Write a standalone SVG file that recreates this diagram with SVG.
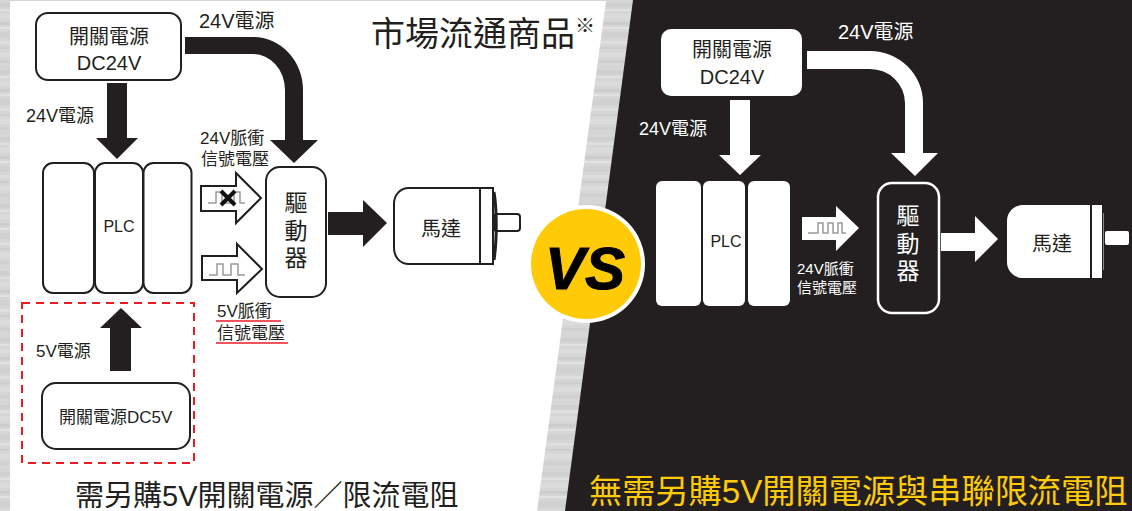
<svg xmlns="http://www.w3.org/2000/svg" width="1132" height="511" viewBox="0 0 1132 511">
<defs>
<pattern id="metal" width="8" height="67" patternUnits="userSpaceOnUse">
<rect width="8" height="67" fill="#d6d6d6"/>
<rect y="3" width="8" height="4" fill="#cfcfcf"/><rect y="9" width="8" height="2" fill="#e0e0e0"/><rect y="14" width="8" height="5" fill="#dbdbdb"/><rect y="22" width="8" height="3" fill="#cdcdcd"/><rect y="27" width="8" height="2" fill="#e2e2e2"/><rect y="32" width="8" height="6" fill="#d1d1d1"/><rect y="41" width="8" height="3" fill="#dedede"/><rect y="47" width="8" height="2" fill="#cecece"/><rect y="52" width="8" height="5" fill="#dcdcdc"/><rect y="60" width="8" height="3" fill="#d0d0d0"/>
</pattern>
</defs>
<style>
text{font-family:"Liberation Sans","Noto Sans CJK TC",sans-serif;fill:#231f20}
.m{text-anchor:middle}
.w{fill:#fff}
.bx{fill:#fff;stroke:#231f20;stroke-width:2}
.blk{fill:#231f20}
.wh{fill:#fff}
.hollow{fill:#fff;stroke:#231f20;stroke-width:2}
.wave{fill:none;stroke:#9a9a9a;stroke-width:1.500}
.red{stroke:#ed1c24;stroke-width:1.500;fill:none}
</style>
<rect width="1132" height="511" fill="url(#metal)"/>
<polygon points="10,1 606,1 537,511 10,511" fill="#fff"/>
<polygon points="633,0 1132,0 1132,511 565,511" fill="#231f20"/>

<g id="connectors">
<polygon class="blk" points="107,83 127,83 127,138 138,138 117,159 96,138 107,138"/>
<path class="blk" d="M185,37H253A50,53 0 0 1 303,90V140H318L294,163L270,140H285V90A32,36 0 0 0 253,54H185Z"/>
<polygon class="hollow" points="201,186 236,186 236,173 261,198 236,223 236,211 201,211"/>
<polygon class="hollow" points="202,256 237,256 237,244 262,269 237,293 237,280 202,280"/>
<polygon class="blk" points="328,212 363,212 363,200 387,223 363,247 363,235 328,235"/>
<polygon class="blk" points="110,371 110,328 100,328 121,308 142,328 131,328 131,371"/>
<polygon class="wh" points="730,100 750,100 750,155 761,155 740,175 719,155 730,155"/>
<path class="wh" d="M807,51H870A53,52 0 0 1 923,103V153H938L915,176L891,153H905V103A35,34 0 0 0 870,69H807Z"/>
<polygon class="wh" points="802,217 836,217 836,206 859,228 836,251 836,240 802,240"/>
<polygon class="wh" points="941,233 975,233 975,216 998,239 975,262 975,251 941,251"/>
<polyline class="wave" points="208,203 216,203 216,192 222,192 222,203 234,203 234,192 240,192 240,203 245,203"/>
<polyline class="wave" points="209,275 217,275 217,264 223,264 223,275 231,275 231,264 238,264 238,275 245,275"/>
<polyline class="wave" points="808,233 818,233 818,223 823,223 823,233 828,233 828,223 833,223 833,233 838,233 838,223 842,223 842,233 846,233"/>
<path d="M221,191L235,205M235,191L221,205" stroke="#111" stroke-width="4" fill="none"/>
</g>

<g id="left-title">
<text x="371" y="46" font-size="34">市場流通商品</text>
<text x="575" y="33" font-size="20">※</text>
</g>
<g id="left-power24"><rect class="bx" x="36" y="13" width="145" height="67" rx="12"/><text class="m" x="109" y="44" font-size="20">開關電源</text><text class="m" x="109" y="70" font-size="20">DC24V</text></g>
<g id="left-label-a"><text x="199" y="28" font-size="20">24V電源</text><text x="26" y="122" font-size="18">24V電源</text></g>
<g id="left-plc">
<rect class="bx" x="43" y="163" width="51" height="130" rx="10"/><rect class="bx" x="95" y="163" width="48" height="130" rx="10"/><rect class="bx" x="143.500" y="163" width="48" height="130" rx="10"/>
<text class="m" x="119" y="232" font-size="16">PLC</text></g>
<g id="left-driver"><rect class="bx" x="266" y="167" width="60" height="130" rx="14"/><text class="m" x="296" y="211" font-size="23">驅</text><text class="m" x="296" y="239" font-size="23">動</text><text class="m" x="296" y="266" font-size="23">器</text></g>
<g id="left-signal24"><text x="200" y="144" font-size="17">24V脈衝</text><text x="201" y="165" font-size="17">信號電壓</text></g>
<g id="left-signal5"><text x="217" y="317" font-size="17">5V脈衝</text><text x="217" y="339" font-size="17">信號電壓</text><path class="red" d="M216,321H281M216,343H288"/></g>
<g id="left-motor">
<rect class="bx" x="494" y="214" width="26" height="17" rx="3"/>
<path class="bx" d="M480,188H409C400,188 394,195 394,204V248C394,257 400,264 409,264H480Z"/>
<path d="M494,192C497,210 497,240 494,260" fill="none" stroke="#231f20" stroke-width="3"/>
<rect class="bx" x="480" y="188" width="13" height="76"/>
<text class="m" x="441" y="236" font-size="20">馬達</text></g>
<g id="left-power5">
<rect x="22" y="303" width="172" height="160" fill="none" stroke="#ed1c24" stroke-width="2" stroke-dasharray="8 6"/>
<text x="36" y="357" font-size="17">5V電源</text>
<rect class="bx" x="42" y="383" width="148" height="66" rx="14"/><text x="59" y="423" font-size="17">開關電源DC5V</text></g>
<g id="left-caption"><text x="75" y="506" font-size="29">需另購5V開關電源／限流電阻</text></g>

<g id="right-power24"><rect class="wh" x="661" y="29" width="141" height="67" rx="10"/><text class="m" x="732" y="57" font-size="20">開關電源</text><text class="m" x="732" y="84" font-size="20">DC24V</text></g>
<g id="right-labels"><text class="w" x="838" y="39" font-size="20">24V電源</text><text class="w" x="639" y="135" font-size="18">24V電源</text></g>
<g id="right-plc"><rect class="wh" x="656" y="181" width="45" height="125" rx="6"/><rect class="wh" x="703" y="181" width="42" height="125" rx="6"/><rect class="wh" x="748" y="181" width="42" height="125" rx="6"/><text class="m" x="726" y="247" font-size="16">PLC</text></g>
<g id="right-driver"><rect x="878" y="183" width="61" height="130" rx="14" fill="#231f20" stroke="#fff" stroke-width="2.500"/><text class="m w" x="908" y="224" font-size="23">驅</text><text class="m w" x="908" y="252" font-size="23">動</text><text class="m w" x="908" y="279" font-size="23">器</text></g>
<g id="right-signal"><text class="w" x="797" y="274" font-size="15">24V脈衝</text><text class="w" x="797" y="293" font-size="15">信號電壓</text></g>
<g id="right-motor">
<path class="wh" d="M1090,205H1023C1014,205 1007,212 1007,221V262C1007,271 1014,278 1023,278H1090Z"/>
<rect class="wh" x="1092" y="205" width="10" height="73"/>
<path d="M1103.500,213V270" stroke="#888" stroke-width="1"/>
<rect class="wh" x="1105" y="231" width="24" height="14" rx="2"/>
<text class="m" x="1052" y="251" font-size="20">馬達</text></g>
<g id="vs"><circle cx="586" cy="264" r="59" fill="#fff"/><circle cx="586" cy="264" r="55" fill="#ffcb08"/><text class="m" x="585" y="289" font-size="60" font-weight="700" font-style="italic" style="fill:#000;stroke:#000;stroke-width:1">VS</text></g>
<g id="right-caption"><text x="589" y="503" font-size="33.200" style="fill:#ffcb08">無需另購5V開關電源與串聯限流電阻</text></g>
</svg>
